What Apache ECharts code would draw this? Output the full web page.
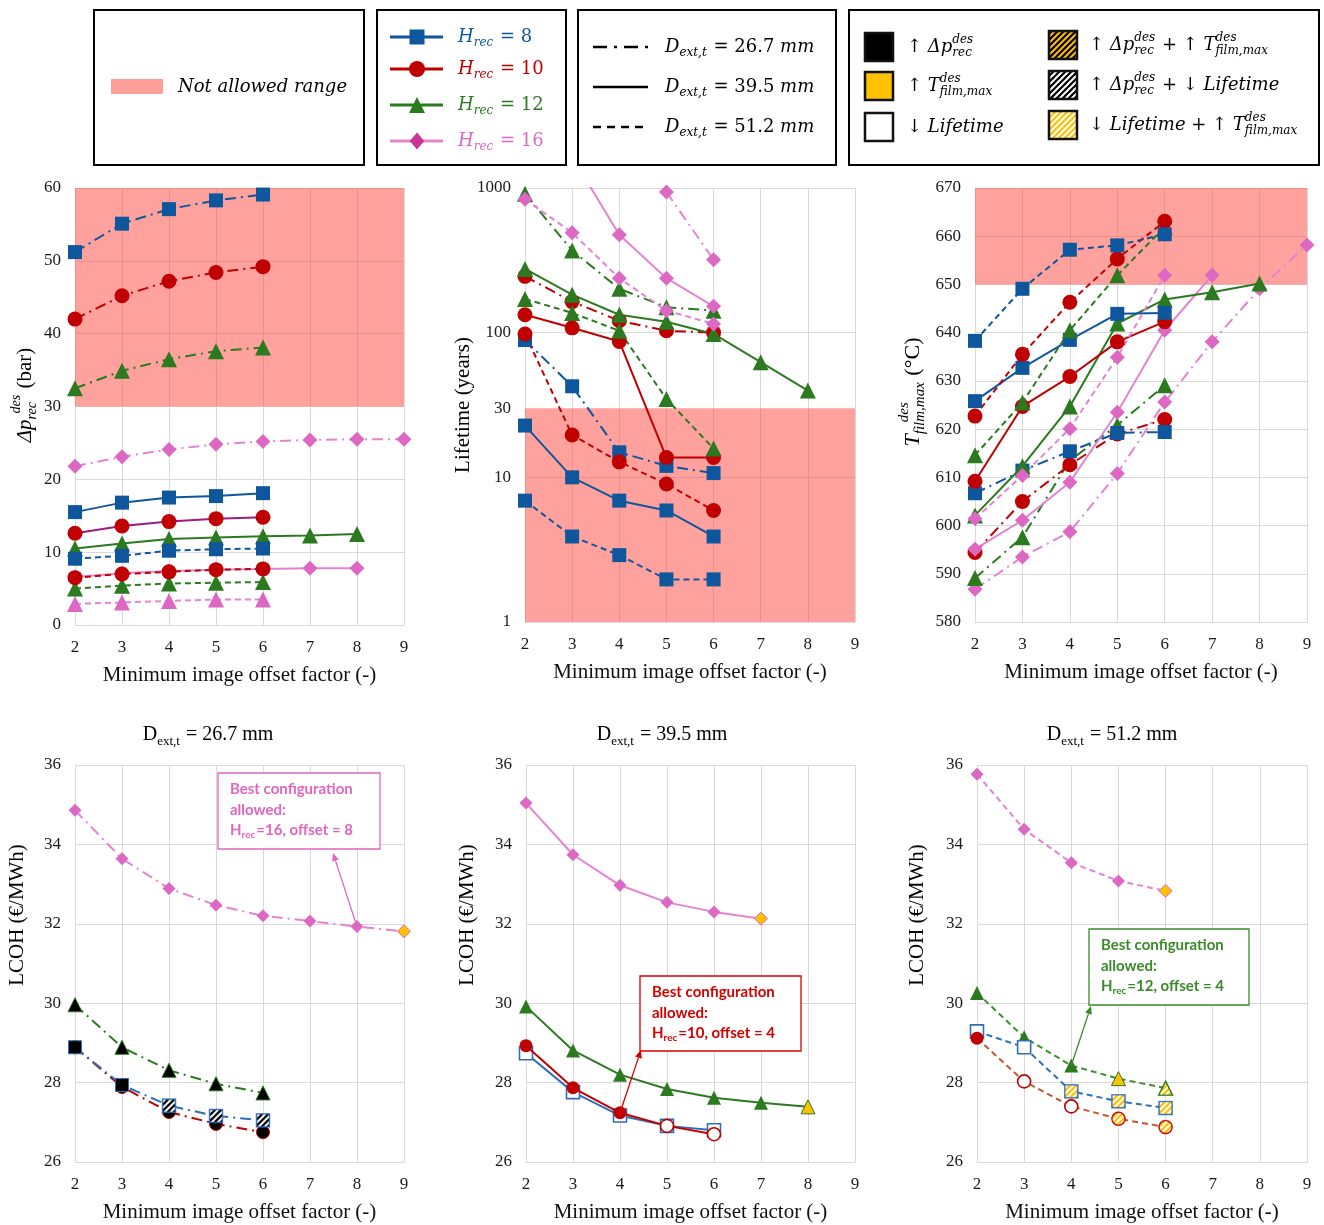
<!DOCTYPE html>
<html>
<head>
<meta charset="utf-8">
<script src="https://cdn.jsdelivr.net/npm/echarts@6/dist/echarts.min.js"></script>
<style>
  html, body { margin: 0; padding: 0; background: #fff; }
  #chart { width: 1324px; height: 1225px; }
</style>
</head>
<body>
<div id="chart"></div>
<script>
// Minimum image offset factor (x values shared by every panel)
const OFFSET = [2, 3, 4, 5, 6, 7, 8, 9];

// Design pressure drop Δp_rec^des (bar) — D_ext,t = 26.7 / 39.5 / 51.2 mm, H_rec = 8/10/12/16
const DP_267_H8  = [51.2, 55.1, 57.1, 58.3, 59.1];
const DP_267_H10 = [42.0, 45.2, 47.2, 48.4, 49.2];
const DP_267_H12 = [32.5, 34.9, 36.5, 37.6, 38.1];
const DP_267_H16 = [21.8, 23.1, 24.1, 24.8, 25.2, 25.4, 25.5, 25.5];
const DP_395_H8  = [15.5, 16.8, 17.5, 17.7, 18.1];
const DP_395_H10 = [12.6, 13.6, 14.2, 14.6, 14.8];
const DP_395_H12 = [10.5, 11.2, 11.8, 12.0, 12.2, 12.3, 12.5];
const DP_395_H16 = [6.6, 7.1, 7.4, 7.6, 7.7, 7.8, 7.8];
const DP_512_H8  = [9.1, 9.5, 10.2, 10.4, 10.5];
const DP_512_H10 = [6.5, 7.0, 7.3, 7.6, 7.7];
const DP_512_H12 = [5.0, 5.4, 5.7, 5.8, 5.9];
const DP_512_H16 = [2.9, 3.1, 3.3, 3.5, 3.5];

// Receiver lifetime (years)
const LT_267_H8  = [89, 42.6, 14.9, 12.0, 10.7];
const LT_267_H10 = [245, 164, 121, 103, 100];
const LT_267_H12 = [914, 370, 201, 150, 142];
const LT_267_H16 = [null, null, null, 939, 319];
const LT_395_H8  = [22.8, 10.0, 6.9, 5.9, 3.9];
const LT_395_H10 = [133, 108, 87, 13.7, 13.7];
const LT_395_H12 = [276, 183, 133, 119, 98, 62.5, 39.8];
const LT_395_H16 = [null, 1640, 475, 238, 152];
const LT_512_H8  = [6.9, 3.9, 2.9, 1.97, 1.97];
const LT_512_H10 = [98, 19.6, 12.8, 9.0, 5.9];
const LT_512_H12 = [171, 137, 103, 34.8, 15.8];
const LT_512_H16 = [835, 491, 238, 142, 115];

// Maximum film temperature T_film,max^des (°C)
const TF_267_H8  = [606.7, 611.4, 615.4, 619.2, 619.4];
const TF_267_H10 = [594.4, 605.0, 612.6, 619.0, 622.0];
const TF_267_H12 = [589.1, 597.6, 613.5, 620.8, 629.1];
const TF_267_H16 = [586.8, 593.5, 598.7, 610.8, 625.6, 638.1, 649.1, 658.2];
const TF_395_H8  = [625.8, 632.7, 638.5, 643.9, 644.1];
const TF_395_H10 = [609.2, 624.7, 630.9, 638.1, 642.3];
const TF_395_H12 = [602.1, 612.3, 624.7, 641.9, 646.9, 648.4, 650.2];
const TF_395_H16 = [595.1, 601.1, 609.0, 623.5, 640.5, 651.9];
const TF_512_H8  = [638.3, 649.1, 657.2, 658.1, 660.4];
const TF_512_H10 = [622.7, 635.5, 646.3, 655.3, 663.1];
const TF_512_H12 = [614.6, 625.5, 640.5, 651.9, 661.9];
const TF_512_H16 = [601.4, 610.4, 620.1, 634.9, 651.9];

// LCOH (€/MWh)
const LC_267_H8  = [28.89, 27.94, 27.42, 27.16, 27.05];
const LC_267_H10 = [28.89, 27.89, 27.26, 26.96, 26.75];
const LC_267_H12 = [29.96, 28.89, 28.31, 27.97, 27.74];
const LC_267_H16 = [34.86, 33.64, 32.89, 32.47, 32.20, 32.07, 31.93, 31.81];
const LC_395_H8  = [28.74, 27.76, 27.17, 26.91, 26.80];
const LC_395_H10 = [28.93, 27.87, 27.24, 26.91, 26.70];
const LC_395_H12 = [29.92, 28.81, 28.20, 27.84, 27.62, 27.49, 27.39];
const LC_395_H16 = [35.04, 33.74, 32.97, 32.54, 32.30, 32.13];
const LC_512_H8  = [29.29, 28.89, 27.78, 27.53, 27.36];
const LC_512_H10 = [29.12, 28.03, 27.40, 27.09, 26.88];
const LC_512_H12 = [30.26, 29.14, 28.43, 28.10, 27.86];
const LC_512_H16 = [35.77, 34.38, 33.54, 33.08, 32.83];

// Constraint violated by each LCOH point
// ok | dp (↑Δp) | T (↑T) | life (↓lifetime) | dpT | dpLife | lifeT
const ST_267_H8  = ['dp', 'dp', 'dpLife', 'dpLife', 'dpLife'];
const ST_267_H10 = ['dp', 'dp', 'dp', 'dp', 'dp'];
const ST_267_H12 = ['dp', 'dp', 'dp', 'dp', 'dp'];
const ST_267_H16 = ['ok', 'ok', 'ok', 'ok', 'ok', 'ok', 'ok', 'T'];
const ST_395_H8  = ['life', 'life', 'life', 'life', 'life'];
const ST_395_H10 = ['ok', 'ok', 'ok', 'life', 'life'];
const ST_395_H12 = ['ok', 'ok', 'ok', 'ok', 'ok', 'ok', 'T'];
const ST_395_H16 = ['ok', 'ok', 'ok', 'ok', 'ok', 'T'];
const ST_512_H8  = ['life', 'life', 'lifeT', 'lifeT', 'lifeT'];
const ST_512_H10 = ['ok', 'life', 'life', 'lifeT', 'lifeT'];
const ST_512_H12 = ['ok', 'ok', 'ok', 'T', 'lifeT'];
const ST_512_H16 = ['ok', 'ok', 'ok', 'ok', 'T'];

// Limits of the not-allowed ranges
const DP_LIMIT = [30, 60];
const LT_LIMIT = [1, 30];
const TF_LIMIT = [650, 670];

// ---------------------------------------------------------------------------
const SERIF = 'Liberation Serif';
const MATH = 'DejaVu Serif';
const BLUE = '#0f579c', RED = '#c00000', GREEN = '#2b7a1f', PINK = '#dc68c4', PINK_LINE = '#e384d2';
const BLUE_B = '#2e6fb8', BROWN = '#c2582c', PURPLE = '#a01a80';
const ORANGE = '#ffc000';
const BAND = 'rgba(255, 68, 58, 0.5)';
const GRIDC = '#d9d9d9';
const DASHDOT = [11, 5, 2, 5];
const DASH = [6, 4];

// Diagonal stripe tiles, k = pixel scale
function stripeTile(bg, fg, k) {
  const n = 6 * k;
  const c = document.createElement('canvas');
  c.width = c.height = n;
  const g = c.getContext('2d');
  g.fillStyle = bg; g.fillRect(0, 0, n, n);
  g.strokeStyle = fg; g.lineWidth = 2 * k;
  g.beginPath();
  g.moveTo(-k, n + k); g.lineTo(n + k, -k);
  g.moveTo(-n / 2 - k, n / 2 + k); g.lineTo(n / 2 + k, -n / 2 - k);
  g.moveTo(n / 2 - k, 3 * n / 2 + k); g.lineTo(3 * n / 2 + k, n / 2 - k);
  g.stroke();
  return c;
}
const HATCH_COLORS = { dpT: ['#000', ORANGE], dpLife: ['#000', '#fff'], lifeT: [ORANGE, '#fff'] };
function hatchFill(st) {
  return { image: stripeTile(HATCH_COLORS[st][0], HATCH_COLORS[st][1], 1), repeat: 'repeat' };
}

// Hatched marker drawn as an image symbol (shape + stripes + coloured border)
function hatchSymbol(kind, st, col, sz) {
  const k = 3, m = 1.5 * k, S = sz * k;
  const c = document.createElement('canvas');
  c.width = c.height = Math.ceil(S + 2 * m);
  const g = c.getContext('2d');
  g.beginPath();
  if (kind === 'rect') g.rect(m, m, S, S);
  else if (kind === 'circle') g.arc(m + S / 2, m + S / 2, S / 2, 0, Math.PI * 2);
  else if (kind === 'triangle') { g.moveTo(m + S / 2, m); g.lineTo(m + S, m + S); g.lineTo(m, m + S); g.closePath(); }
  else { g.moveTo(m + S / 2, m); g.lineTo(m + S, m + S / 2); g.lineTo(m + S / 2, m + S); g.lineTo(m, m + S / 2); g.closePath(); }
  g.fillStyle = g.createPattern(stripeTile(HATCH_COLORS[st][0], HATCH_COLORS[st][1], k), 'repeat');
  g.fill();
  g.lineWidth = 1.4 * k;
  g.strokeStyle = col;
  g.stroke();
  return 'image://' + c.toDataURL();
}

function markStyle(st, col) {
  switch (st) {
    case 'dp': return { color: '#000', borderColor: col, borderWidth: 1 };
    case 'T': return { color: ORANGE, borderColor: col, borderWidth: 1 };
    case 'life': return { color: '#fff', borderColor: col, borderWidth: 1.6 };
    default: return { color: col };
  }
}

const SYM_TOP = { rect: 14, circle: 15, triangle: 16, diamond: 15 };
const SYM_BOT = { rect: 13, circle: 13, triangle: 14, diamond: 13 };

function pts(vals, st, col, sym, sz) {
  const out = [];
  vals.forEach((v, i) => {
    if (v == null) return;
    if (!st) { out.push([OFFSET[i], v]); return; }
    if (HATCH_COLORS[st[i]]) {
      const m = 3;
      out.push({ value: [OFFSET[i], v], symbol: hatchSymbol(sym, st[i], col, sz), symbolSize: sz + m });
    } else {
      out.push({ value: [OFFSET[i], v], itemStyle: markStyle(st[i], col) });
    }
  });
  return out;
}

function ser(gi, vals, col, sym, dash, o) {
  o = o || {};
  const sizes = gi < 3 ? SYM_TOP : SYM_BOT;
  return {
    type: 'line', xAxisIndex: gi, yAxisIndex: gi,
    data: pts(vals, o.st, o.mc || col, sym, sizes[sym]),
    symbol: sym, symbolSize: sizes[sym], showAllSymbol: true,
    lineStyle: { color: o.lc || col, width: 2, type: dash },
    itemStyle: { color: o.mc || col },
    z: o.z || 3, animation: false, silent: true, clip: true
  };
}

function band(gi, lim) {
  return {
    type: 'line', xAxisIndex: gi, yAxisIndex: gi, data: [], z: 1, silent: true, animation: false,
    markArea: { silent: true, itemStyle: { color: BAND }, data: [[{ xAxis: 2, yAxis: lim[0] }, { xAxis: 9, yAxis: lim[1] }]] }
  };
}

const GRIDS = [
  { left: 75, top: 188, width: 329, height: 437 },
  { left: 525, top: 188, width: 330, height: 434 },
  { left: 975, top: 188, width: 332, height: 434 },
  { left: 75, top: 765, width: 329, height: 397 },
  { left: 526, top: 765, width: 329, height: 397 },
  { left: 977, top: 765, width: 330, height: 397 }
];

const labelStyle = { color: '#1a1a1a', fontFamily: SERIF, fontSize: 17 };

function xAx(i) {
  return {
    gridIndex: i, type: 'value', min: 2, max: 9, interval: 1,
    axisLine: { show: true, lineStyle: { color: GRIDC, width: 1 } },
    axisTick: { show: false },
    splitLine: { show: true, lineStyle: { color: GRIDC, width: 1 } },
    axisLabel: Object.assign({ margin: 14 }, labelStyle),
    name: 'Minimum image offset factor (-)', nameLocation: 'middle', nameGap: 40,
    nameTextStyle: { fontFamily: SERIF, fontSize: 21, color: '#111' }
  };
}
function yAx(i, o) {
  return Object.assign({
    gridIndex: i, type: 'value',
    axisLine: { show: true, lineStyle: { color: GRIDC, width: 1 } },
    axisTick: { show: false },
    splitLine: { show: true, lineStyle: { color: GRIDC, width: 1 } },
    axisLabel: Object.assign({ margin: 14 }, labelStyle)
  }, o);
}

const series = [
  band(0, DP_LIMIT), band(1, LT_LIMIT), band(2, TF_LIMIT)
];

// Top row: Δp, lifetime, film temperature
const TOP = [
  [DP_267_H16, DP_267_H12, DP_267_H10, DP_267_H8, DP_395_H16, DP_395_H12, DP_395_H10, DP_395_H8, DP_512_H16, DP_512_H12, DP_512_H10, DP_512_H8],
  [LT_267_H16, LT_267_H12, LT_267_H10, LT_267_H8, LT_395_H16, LT_395_H12, LT_395_H10, LT_395_H8, LT_512_H16, LT_512_H12, LT_512_H10, LT_512_H8],
  [TF_267_H16, TF_267_H12, TF_267_H10, TF_267_H8, TF_395_H16, TF_395_H12, TF_395_H10, TF_395_H8, TF_512_H16, TF_512_H12, TF_512_H10, TF_512_H8]
];
const STYLE_BY_H = [
  { col: PINK, lc: PINK_LINE, sym: 'diamond' },
  { col: GREEN, sym: 'triangle' },
  { col: RED, sym: 'circle' },
  { col: BLUE, sym: 'rect' }
];
const DASH_BY_D = [DASHDOT, 'solid', DASH];

TOP.forEach((arrs, gi) => {
  arrs.forEach((vals, k) => {
    const d = Math.floor(k / 4), h = k % 4;
    const s = STYLE_BY_H[h];
    let sym = s.sym, lc = s.lc;
    if (gi === 0 && d === 1 && h === 2) lc = PURPLE;
    if (gi === 0 && d === 2 && h === 0) sym = 'triangle';
    series.push(ser(gi, vals, s.col, sym, DASH_BY_D[d], { lc: lc }));
  });
});

// Bottom row: LCOH for each tube diameter
series.push(
  ser(3, LC_267_H16, PINK, 'diamond', DASHDOT, { lc: PINK_LINE, st: ST_267_H16 }),
  ser(3, LC_267_H12, GREEN, 'triangle', DASHDOT, { st: ST_267_H12 }),
  ser(3, LC_267_H10, RED, 'circle', DASHDOT, { st: ST_267_H10 }),
  ser(3, LC_267_H8, BLUE_B, 'rect', DASHDOT, { st: ST_267_H8, z: 4 }),

  ser(4, LC_395_H16, PINK, 'diamond', 'solid', { lc: PINK_LINE, st: ST_395_H16 }),
  ser(4, LC_395_H12, GREEN, 'triangle', 'solid', { st: ST_395_H12 }),
  ser(4, LC_395_H8, BLUE_B, 'rect', 'solid', { st: ST_395_H8 }),
  ser(4, LC_395_H10, RED, 'circle', 'solid', { st: ST_395_H10, z: 4 }),

  ser(5, LC_512_H16, PINK, 'diamond', DASH, { lc: PINK_LINE, st: ST_512_H16 }),
  ser(5, LC_512_H12, GREEN, 'triangle', DASH, { lc: '#3d9130', st: ST_512_H12 }),
  ser(5, LC_512_H8, BLUE_B, 'rect', DASH, { st: ST_512_H8 }),
  ser(5, LC_512_H10, RED, 'circle', DASH, { lc: BROWN, st: ST_512_H10, z: 4 })
);

const option = {
  backgroundColor: '#fff',
  animation: false,
  grid: GRIDS.map(g => Object.assign({ outerBoundsMode: 'none', containLabel: false }, g)),
  xAxis: [0, 1, 2, 3, 4, 5].map(xAx),
  yAxis: [
    yAx(0, { min: 0, max: 60, interval: 10 }),
    yAx(1, { type: 'log', logBase: 10, min: 1, max: 1000,
             axisLabel: Object.assign({ margin: 14, formatter: v => String(Math.round(v)) }, labelStyle) }),
    yAx(2, { min: 580, max: 670, interval: 10 }),
    yAx(3, { min: 26, max: 36, interval: 2 }),
    yAx(4, { min: 26, max: 36, interval: 2 }),
    yAx(5, { min: 26, max: 36, interval: 2 })
  ],
  series: series
};

const chart = echarts.init(document.getElementById('chart'), null, { renderer: 'canvas' });
chart.setOption(option);

// ---------------------------------------------------------------------------
// Text with subscripts / superscripts, laid out piece by piece
const mctx = document.createElement('canvas').getContext('2d');
function tw(t, f) { mctx.font = f; return mctx.measureText(t).width; }
function fnt(size, it, fam, bold) {
  return (it ? 'italic ' : '') + (bold ? 'bold ' : '') + size + 'px "' + fam + '"';
}
function T(x, y, text, font, fill) {
  return { type: 'text', x: x, y: y, z: 60, style: { text: text, font: font, fill: fill, align: 'left', verticalAlign: 'middle' } };
}
function mt(x, y, parts, o) {
  o = o || {};
  const fam = o.family || MATH, base = o.size || 18, col = o.color || '#000';
  const kids = [];
  let cx = 0;
  parts.forEach(p => {
    if (typeof p === 'string') p = { t: p };
    const c = p.c || col;
    const it = p.it != null ? p.it : !!o.it;
    if (p.sub != null || p.sup != null) {
      const ss = p.s || Math.round(base * 0.66);
      const f = fnt(ss, it, fam, o.bold);
      let w = 0;
      if (p.sub) { kids.push(T(cx, base * 0.34, p.sub, f, c)); w = Math.max(w, tw(p.sub, f)); }
      if (p.sup) {
        const dx = p.supDx || 0;
        kids.push(T(cx + dx, -base * 0.42, p.sup, f, c)); w = Math.max(w, dx + tw(p.sup, f));
      }
      cx += w + 1;
    } else {
      const f = fnt(p.s || base, it, fam, o.bold);
      kids.push(T(cx, p.dy || 0, p.t, f, c));
      cx += tw(p.t, f);
    }
  });
  const off = o.align === 'center' ? -cx / 2 : (o.align === 'right' ? -cx : 0);
  kids.forEach(k => { k.x += off; });
  return { type: 'group', x: x, y: y, rotation: o.rot || 0, children: kids, z: 60 };
}

function box(x, y, w, h, stroke, lw) {
  return { type: 'rect', z: 40, shape: { x: x, y: y, width: w, height: h },
           style: { fill: '#fff', stroke: stroke || '#000', lineWidth: lw || 2 } };
}
function seg(x1, y1, x2, y2, col, w, dash) {
  return { type: 'line', z: 50, shape: { x1: x1, y1: y1, x2: x2, y2: y2 },
           style: { stroke: col, lineWidth: w, lineDash: dash || null } };
}
function marker(kind, cx, cy, col, sz) {
  const r = sz / 2;
  if (kind === 'rect') return { type: 'rect', z: 51, shape: { x: cx - r, y: cy - r, width: sz, height: sz }, style: { fill: col } };
  if (kind === 'circle') return { type: 'circle', z: 51, shape: { cx: cx, cy: cy, r: r }, style: { fill: col } };
  if (kind === 'triangle') return { type: 'polygon', z: 51, shape: { points: [[cx, cy - r], [cx + r, cy + r], [cx - r, cy + r]] }, style: { fill: col } };
  return { type: 'polygon', z: 51, shape: { points: [[cx, cy - r], [cx + r * 0.85, cy], [cx, cy + r], [cx - r * 0.85, cy]] }, style: { fill: col } };
}
function arrow(x1, y1, x2, y2, col) {
  const a = Math.atan2(y2 - y1, x2 - x1), L = 8, W = 3.5;
  const bx = x2 - L * Math.cos(a), by = y2 - L * Math.sin(a);
  return [
    seg(x1, y1, bx, by, col, 1.3),
    { type: 'polygon', z: 52, shape: { points: [[x2, y2], [bx + W * Math.sin(a), by - W * Math.cos(a)], [bx - W * Math.sin(a), by + W * Math.cos(a)]] }, style: { fill: col } }
  ];
}
function swatch(x, y, fill) {
  return { type: 'rect', z: 51, shape: { x: x, y: y, width: 28, height: 28 },
           style: { fill: fill, stroke: '#111', lineWidth: 2.5 } };
}

const G = [];

// Legend: not-allowed range
G.push(box(94, 10, 270, 155));
G.push({ type: 'rect', z: 51, shape: { x: 111, y: 79, width: 52, height: 15 }, style: { fill: '#ff9f9a' } });
G.push(mt(178, 87, [{ t: 'Not allowed range', it: true }], { size: 18 }));

// Legend: receiver heights
G.push(box(377, 10, 189, 155));
const LEG_H = [
  { y: 37, col: BLUE, lc: BLUE, sym: 'rect', txt: ' = 8', sz: 15 },
  { y: 69, col: RED, lc: RED, sym: 'circle', txt: ' = 10', sz: 16 },
  { y: 105, col: GREEN, lc: GREEN, sym: 'triangle', txt: ' = 12', sz: 16 },
  { y: 141, col: '#cc3399', lc: PINK_LINE, sym: 'diamond', txt: ' = 16', sz: 17 }
];
LEG_H.forEach(r => {
  G.push(seg(390, r.y, 443, r.y, r.lc, 3));
  G.push(marker(r.sym, 417, r.y, r.col, r.sz));
  G.push(mt(458, r.y, [{ t: 'H', it: true }, { sub: 'rec', it: true }, r.txt], { size: 18, color: r.sym === 'diamond' ? PINK : r.col }));
});

// Legend: tube diameters
G.push(box(578, 10, 258, 155));
const LEG_D = [{ y: 47, dash: [14, 7, 3, 7], v: '26.7' }, { y: 87, dash: null, v: '39.5' }, { y: 127, dash: [8, 6], v: '51.2' }];
LEG_D.forEach(r => {
  G.push(seg(593, r.y, 648, r.y, '#000', 2.5, r.dash));
  G.push(mt(665, r.y, [{ t: 'D', it: true }, { sub: 'ext,t', it: true }, ' = ' + r.v + ' ', { t: 'mm', it: true }], { size: 18 }));
});

// Legend: violated constraints
G.push(box(849, 10, 470, 155));
const DPTXT = [{ t: 'Δp', it: true }, { sub: 'rec', sup: 'des', it: true }];
const TTXT = [{ t: 'T', it: true }, { sub: 'film,max', sup: 'des', it: true }];
const LTXT = [{ t: 'Lifetime', it: true }];
G.push(swatch(865, 33, '#000'));
G.push(mt(907, 47, ['↑ '].concat(DPTXT), { size: 18 }));
G.push(swatch(865, 72, ORANGE));
G.push(mt(907, 86, ['↑ '].concat(TTXT), { size: 18 }));
G.push(swatch(865, 113, '#fff'));
G.push(mt(907, 127, ['↓ '].concat(LTXT), { size: 18 }));
G.push(swatch(1049, 31, hatchFill('dpT')));
G.push(mt(1089, 45, ['↑ '].concat(DPTXT, [' + ↑ '], TTXT), { size: 18 }));
G.push(swatch(1049, 71, hatchFill('dpLife')));
G.push(mt(1089, 85, ['↑ '].concat(DPTXT, [' + ↓ '], LTXT), { size: 18 }));
G.push(swatch(1049, 111, hatchFill('lifeT')));
G.push(mt(1089, 125, ['↓ '].concat(LTXT, [' + ↑ '], TTXT), { size: 18 }));

// Axis titles (rotated)
const ROT = Math.PI / 2;
G.push(mt(25, 395, [{ t: 'Δp', it: true }, { sub: 'rec', sup: 'des', it: true, supDx: 6 }, ' (bar)'], { family: SERIF, size: 21, rot: ROT, align: 'center' }));
G.push(mt(463, 405, ['Lifetime (years)'], { family: SERIF, size: 21, rot: ROT, align: 'center' }));
G.push(mt(913, 392, [{ t: 'T', it: true }, { sub: 'film,max', sup: 'des', it: true, supDx: 12 }, ' (°C)'], { family: SERIF, size: 22, rot: ROT, align: 'center' }));
[17, 467, 917].forEach(x => G.push(mt(x, 915, ['LCOH (€/MWh)'], { family: SERIF, size: 21, rot: ROT, align: 'center' })));

// Panel titles of the LCOH row
[[208, '26.7'], [662, '39.5'], [1112, '51.2']].forEach(t => {
  G.push(mt(t[0], 735, ['D', { sub: 'ext,t' }, ' = ' + t[1] + ' mm'], { family: SERIF, size: 20, align: 'center' }));
});

// Extra "30" tick on the lifetime axis
const y30 = chart.convertToPixel({ yAxisIndex: 1 }, 30);
G.push(mt(511, y30, ['30'], { family: SERIF, size: 17, align: 'right', color: '#1a1a1a' }));

// Best configuration call-outs
function callout(x, y, w, h, col, hv, off, tail, head) {
  G.push(box(x, y, w, h, col, 1.3));
  const o = { family: 'Lato', bold: true, size: 15, color: col };
  G.push(mt(x + 12, y + 16, ['Best configuration'], o));
  G.push(mt(x + 12, y + 37, ['allowed:'], o));
  G.push(mt(x + 12, y + 57, ['H', { sub: 'rec', s: 10 }, '=' + hv + ', offset = ' + off], o));
  const p = chart.convertToPixel({ gridIndex: tail[0] }, [tail[1], tail[2]]);
  arrow(p[0], p[1], head[0], head[1], col).forEach(e => G.push(e));
}
callout(218, 773, 162, 76, '#e066c0', 16, 8, [3, 8, LC_267_H16[6]], [333, 853]);
callout(640, 976, 161, 75, '#d40000', 10, 4, [4, 4, LC_395_H10[2]], [641, 1050]);
callout(1089, 929, 160, 76, '#3a8a2a', 12, 4, [5, 4, LC_512_H12[2]], [1091, 1006]);

chart.setOption({ graphic: G });
</script>
</body>
</html>
